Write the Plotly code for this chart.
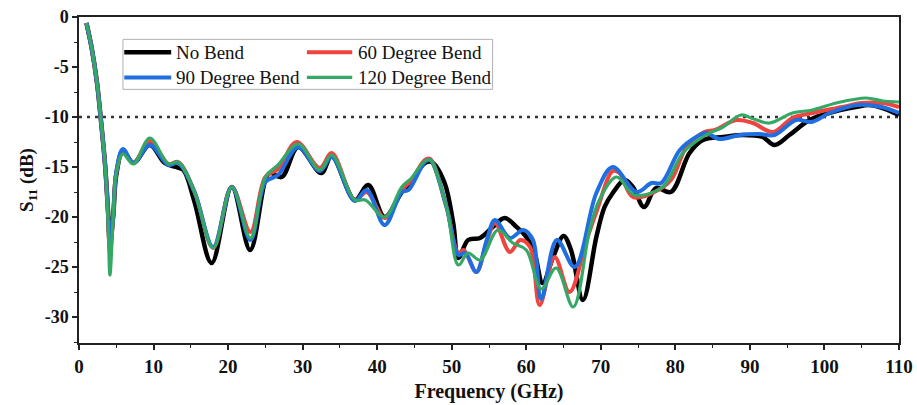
import plotly.graph_objects as go

# ---------------- data ----------------
freq_nobend = [1.0, 1.7, 2.4, 2.9, 3.5, 3.9, 4.15, 4.6, 5.0, 5.9, 7.3, 9.5, 11.5, 13.0, 14.0, 15.5,
               17.8, 20.5, 22.95, 25.0, 25.6, 27.2, 29.4, 32.5, 33.9, 37.0, 38.8, 41.0, 43.3, 44.5,
               46.4, 47.3, 49.0, 50.2, 50.9, 52.2, 53.8, 55.5, 57.1, 58.7, 60.0, 61.1, 62.2, 63.6,
               65.0, 66.0, 67.6, 69.4, 70.5, 71.6, 73.2, 74.3, 75.8, 77.4, 79.4, 81.9, 83.7, 86.4,
               89.1, 91.7, 93.3, 95.3, 98.0, 101.1, 104.2, 106.0, 107.8, 110.0]
s11_nobend = [-0.6, -3.1, -6.5, -10.0, -14.8, -19.5, -22.8, -19.8, -15.8, -13.4, -14.6, -12.8, -14.6,
              -15.0, -15.3, -18.5, -24.6, -17.0, -23.3, -16.3, -15.6, -16.0, -13.0, -15.6, -13.9,
              -18.3, -16.8, -20.0, -17.5, -16.5, -14.6, -14.5, -16.5, -20.6, -24.1, -22.3, -22.1,
              -21.0, -20.1, -21.0, -22.0, -23.6, -26.6, -24.0, -21.9, -23.3, -28.3, -22.0, -19.0,
              -17.6, -16.3, -17.0, -19.0, -17.1, -17.5, -13.6, -12.3, -12.0, -11.8, -12.0, -12.8,
              -11.8, -10.3, -9.5, -9.0, -8.8, -9.1, -9.8]

freq_60 = [1.0, 1.7, 2.4, 2.9, 3.5, 3.9, 4.15, 4.6, 5.0, 5.9, 7.3, 9.5, 12.0, 13.3, 15.5, 18.0, 20.5,
           23.0, 25.0, 26.7, 29.2, 32.3, 33.9, 37.0, 38.6, 41.0, 43.3, 44.6, 46.4, 47.1, 49.3, 50.9,
           51.6, 53.3, 54.7, 55.8, 57.8, 59.2, 60.5, 61.8, 63.8, 65.8, 68.1, 69.5, 71.6, 72.5, 74.3,
           77.2, 79.4, 81.5, 83.9, 85.3, 88.2, 90.4, 93.1, 95.7, 98.4, 102.4, 105.0, 107.8, 110.0]
s11_60 = [-0.6, -3.1, -6.5, -10.0, -14.8, -19.8, -23.5, -19.8, -15.6, -13.5, -14.6, -12.4, -14.7,
          -14.5, -17.5, -23.1, -17.0, -21.5, -16.0, -15.2, -12.5, -15.1, -13.6, -18.3, -17.5, -20.1,
          -17.3, -16.3, -14.3, -14.2, -19.0, -23.6, -23.3, -25.5, -22.5, -20.6, -23.5, -22.3, -23.0,
          -28.8, -24.0, -27.5, -22.3, -19.3, -15.4, -15.6, -18.0, -17.5, -16.3, -13.0, -11.5, -11.3,
          -10.3, -10.6, -11.5, -10.1, -9.6, -9.0, -8.6, -8.6, -9.0]

freq_90 = [1.0, 1.7, 2.4, 2.9, 3.5, 3.9, 4.15, 4.6, 5.0, 5.9, 7.3, 9.5, 12.0, 13.3, 15.5, 18.0, 20.5,
           23.0, 25.0, 26.7, 29.4, 32.3, 33.9, 37.0, 38.6, 41.0, 43.3, 44.2, 46.4, 47.1, 49.3, 50.9,
           51.8, 53.3, 54.7, 55.8, 57.8, 59.6, 60.9, 62.0, 64.1, 66.5, 69.4, 71.6, 74.8, 76.8, 78.1,
           80.6, 82.8, 84.1, 85.9, 88.6, 91.3, 93.3, 96.2, 98.3, 100.7, 104.5, 107.6, 110.0]
s11_90 = [-0.6, -3.1, -6.5, -10.0, -14.8, -19.5, -22.5, -19.8, -15.5, -13.2, -14.6, -12.8, -14.8,
          -14.6, -17.5, -23.0, -17.0, -22.3, -16.5, -15.8, -13.0, -15.4, -14.0, -18.4, -17.3, -20.8,
          -17.5, -17.3, -14.5, -14.3, -19.0, -23.8, -23.6, -25.5, -22.3, -20.3, -22.1, -21.3, -22.3,
          -28.2, -22.3, -25.0, -17.6, -15.0, -17.5, -16.6, -16.6, -13.3, -12.0, -11.6, -12.2, -11.8,
          -11.7, -11.8, -10.3, -10.5, -9.6, -8.8, -9.0, -9.6]

freq_120 = [1.0, 1.7, 2.4, 2.9, 3.5, 3.9, 4.15, 4.6, 5.0, 5.9, 7.3, 9.5, 12.0, 13.3, 15.5, 18.0, 20.5,
            23.0, 25.0, 26.7, 29.4, 32.3, 33.9, 37.0, 38.4, 41.0, 43.3, 44.6, 46.4, 47.1, 49.3, 50.9,
            52.2, 53.8, 56.2, 58.2, 60.0, 62.0, 64.0, 66.3, 68.5, 69.8, 72.1, 74.5, 78.3, 81.0, 84.1,
            86.4, 88.8, 90.5, 92.6, 95.7, 98.4, 101.6, 105.6, 107.8, 110.0]
s11_120 = [-0.6, -3.1, -6.5, -10.0, -14.8, -20.5, -25.8, -19.8, -15.6, -13.7, -14.7, -12.1, -14.7,
           -14.5, -17.5, -23.1, -17.0, -22.1, -16.0, -14.8, -12.7, -15.3, -13.8, -18.3, -18.3, -20.0,
           -17.0, -16.1, -14.4, -14.3, -19.0, -24.8, -23.6, -24.3, -21.3, -22.6, -23.3, -27.2, -25.1,
           -29.0, -21.3, -18.3, -16.0, -17.8, -17.0, -13.6, -11.8, -11.0, -9.8, -10.2, -10.6, -9.6,
           -9.3, -8.6, -8.1, -8.4, -8.5]

series_names = ["No Bend", "60 Degree Bend", "90 Degree Bend", "120 Degree Bend"]
series_colors = ["#000000", "#F0443F", "#1F6FE0", "#35A865"]
series_widths = [4.5, 4.0, 4.0, 3.2]

x_tick_vals = [0, 10, 20, 30, 40, 50, 60, 70, 80, 90, 100, 110]
x_tick_text = ["0", "10", "20", "30", "40", "50", "60", "70", "80", "90", "100", "110"]
y_tick_vals = [0, -5, -10, -15, -20, -25, -30]
y_tick_text = ["0", "-5", "-10", "-15", "-20", "-25", "-30"]
threshold_db = -10

FONT = "Liberation Serif"

# ---------------- figure ----------------
fig = go.Figure()
data = [(freq_nobend, s11_nobend), (freq_60, s11_60), (freq_90, s11_90), (freq_120, s11_120)]
for (fx, fy), name, col, w in zip(data, series_names, series_colors, series_widths):
    fig.add_trace(go.Scatter(x=fx, y=fy, mode="lines", name=name,
                             line=dict(color=col, width=w, shape="spline", smoothing=1.0),
                             showlegend=False))

# -10 dB dotted reference line
fig.add_shape(type="line", xref="x", yref="y", x0=0, x1=110, y0=threshold_db, y1=threshold_db,
              line=dict(color="#333333", width=2.5, dash="3px,5px"), layer="below")

# manual two-column legend
lx0, lx1, ly0, ly1 = 0.0536, 0.5044, 0.778, 0.9315
fig.add_shape(type="rect", xref="paper", yref="paper", x0=lx0, x1=lx1, y0=ly0, y1=ly1,
              line=dict(color="#B0B0B0", width=1), fillcolor="rgba(255,255,255,0)")
rows_y = [0.8916, 0.8148]
cols = [(0.0552, 0.1124, 0.1156), (0.2779, 0.3332, 0.3381)]
positions = [(0, 0), (1, 0), (0, 1), (1, 1)]  # (col,row) for each series
for (ci, ri), name, col, w in zip(positions, series_names, series_colors, series_widths):
    sx0, sx1, tx = cols[ci]
    yy = rows_y[ri]
    fig.add_shape(type="line", xref="paper", yref="paper", x0=sx0, x1=sx1, y0=yy, y1=yy,
                  line=dict(color=col, width=w))
    fig.add_annotation(xref="paper", yref="paper", x=tx, y=yy, text=name, showarrow=False,
                       xanchor="left", yanchor="middle", font=dict(family=FONT, size=19, color="#111"))

fig.update_layout(
    width=917, height=405,
    margin=dict(l=79, r=18, t=17, b=62),
    paper_bgcolor="white", plot_bgcolor="white",
    font=dict(family=FONT, color="#111"),
)
fig.update_xaxes(
    range=[0, 110], tickvals=x_tick_vals, ticktext=x_tick_text, automargin=False,
    ticks="outside", ticklen=5, tickwidth=1.5, tickcolor="#222",
    minor=dict(ticks="outside", ticklen=3, tickwidth=1.2, tickcolor="#222", dtick=5, tick0=0),
    showline=True, linecolor="#222", linewidth=1.5, mirror=True,
    showgrid=False, zeroline=False,
    tickfont=dict(family=FONT, size=19, color="#111", weight="bold"),
    title=dict(text="<b>Frequency (GHz)</b>", font=dict(family=FONT, size=20, color="#111"), standoff=8),
)
fig.update_yaxes(
    range=[-32.6, 0], tickvals=y_tick_vals, ticktext=y_tick_text, automargin=False,
    ticks="outside", ticklen=5, tickwidth=1.5, tickcolor="#222",
    minor=dict(ticks="outside", ticklen=3, tickwidth=1.2, tickcolor="#222", dtick=2.5, tick0=0),
    showline=True, linecolor="#222", linewidth=1.5, mirror=True,
    showgrid=False, zeroline=False,
    tickfont=dict(family=FONT, size=18, color="#111", weight="bold"),
    title=dict(text="<b>S<sub>11</sub> (dB)</b>", font=dict(family=FONT, size=19, color="#111"), standoff=6),
)

fig.write_html("out.html")
